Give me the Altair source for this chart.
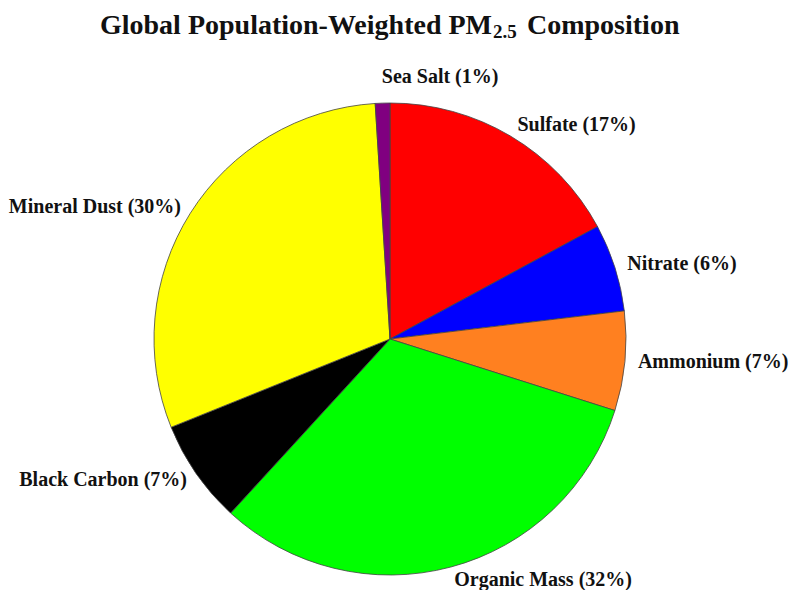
import altair as alt
import pandas as pd

categories = ["Sulfate", "Nitrate", "Ammonium", "Organic Mass", "Black Carbon", "Mineral Dust", "Sea Salt"]
values = [17.1, 6.0, 6.8, 31.9, 7.1, 30.1, 1.0]
colors = ["#FF0000", "#0000FF", "#FF8020", "#00FF00", "#000000", "#FFFF00", "#800080"]
right_aligned = ["Black Carbon", "Mineral Dust"]
top_label = ["Sea Salt"]

df = pd.DataFrame({"category": categories, "value": values, "order": list(range(len(categories)))})

CX, CY, R = 382, 331, 236
FONT = "Liberation Serif"

base = alt.Chart(df).transform_calculate(
    label="datum.category + ' (' + format(datum.value, '.0f') + '%)'"
)

theta = alt.Theta("value:Q", stack=True)
order = alt.Order("order:Q")

pie = base.mark_arc(outerRadius=R, stroke="#444444", strokeWidth=0.8).encode(
    theta=theta,
    order=order,
    color=alt.Color("category:N", scale=alt.Scale(domain=categories, range=colors), legend=None),
    x=alt.value(CX), y=alt.value(CY),
)

def label_layer(expr, align, radius):
    return base.transform_calculate(t=expr).mark_text(
        font=FONT, fontWeight="bold", fontSize=20, align=align, baseline="middle",
        radius=radius, color="#111111",
    ).encode(
        theta=theta, order=order, text="t:N",
        x=alt.value(CX), y=alt.value(CY),
    )

ra = str(right_aligned)
tl = str(top_label)
lab_left = label_layer(f"indexof({ra}, datum.category) < 0 && indexof({tl}, datum.category) < 0 ? datum.label : ''", "left", 249)
lab_right = label_layer(f"indexof({ra}, datum.category) >= 0 ? datum.label : ''", "right", 247)
lab_top = label_layer(f"indexof({tl}, datum.category) >= 0 ? datum.label : ''", "left", 262)

title_df = pd.DataFrame({"a": [1]})
tbase = alt.Chart(title_df)
t1 = tbase.mark_text(font=FONT, fontWeight="bold", fontSize=28, align="right", baseline="alphabetic", color="#111111").encode(
    x=alt.value(484), y=alt.value(26), text=alt.value("Global Population-Weighted PM"))
t2 = tbase.mark_text(font=FONT, fontWeight="bold", fontSize=19, align="left", baseline="alphabetic", color="#111111").encode(
    x=alt.value(485), y=alt.value(30), text=alt.value("2.5"))
t3 = tbase.mark_text(font=FONT, fontWeight="bold", fontSize=28, align="left", baseline="alphabetic", color="#111111").encode(
    x=alt.value(519), y=alt.value(26), text=alt.value("Composition"))

chart = alt.layer(pie, lab_left, lab_right, lab_top, t1, t2, t3).properties(
    width=784, height=582, padding=0, autosize=alt.AutoSizeParams(type="none"),
    background="white",
).configure_view(stroke=None)

chart.save("out.html", embed_options={"renderer": "svg", "actions": False})
